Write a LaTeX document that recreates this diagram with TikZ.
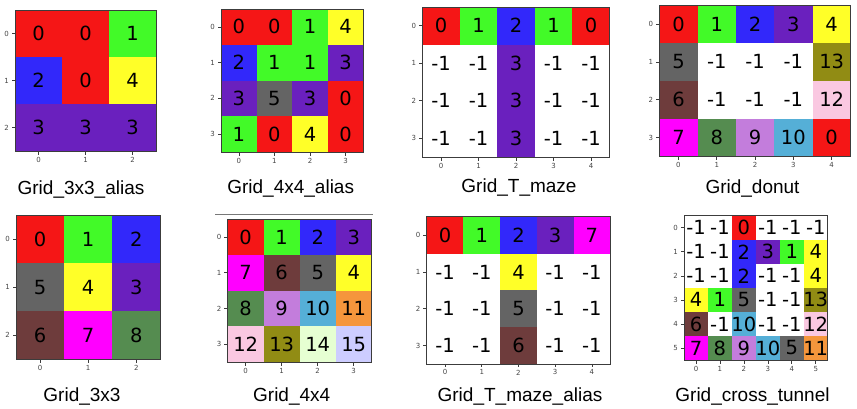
\documentclass[tikz,border=0pt]{standalone}
\usepackage{fontspec}
\newfontfamily\dvfont{DejaVu Sans}
\newfontfamily\ttlfont{Liberation Sans}
\definecolor{c0}{RGB}{255,255,255}
\definecolor{c1}{RGB}{245,22,22}
\definecolor{c2}{RGB}{66,250,40}
\definecolor{c3}{RGB}{50,40,250}
\definecolor{c4}{RGB}{106,32,190}
\definecolor{c5}{RGB}{255,255,40}
\definecolor{c6}{RGB}{100,100,100}
\definecolor{c7}{RGB}{110,60,60}
\definecolor{c8}{RGB}{255,0,255}
\definecolor{c9}{RGB}{85,140,80}
\definecolor{c10}{RGB}{195,125,220}
\definecolor{c11}{RGB}{85,175,215}
\definecolor{c12}{RGB}{245,150,60}
\definecolor{c13}{RGB}{250,200,225}
\definecolor{c14}{RGB}{145,140,20}
\definecolor{c15}{RGB}{230,255,210}
\definecolor{c16}{RGB}{205,205,255}
\definecolor{spine}{RGB}{60,60,60}
\definecolor{ticktxt}{RGB}{70,70,70}
\tikzset{
  numtxt/.style={inner sep=0pt, font=\dvfont\fontsize{19.5}{20}\selectfont, text=black},
  frame/.style={draw=spine, line width=0.8pt},
  tickmark/.style={draw=spine, line width=0.6pt},
  ticklabel/.style={inner sep=0pt, font=\dvfont\fontsize{7}{8}\selectfont, text=ticktxt},
  titletxt/.style={inner sep=0pt, anchor=base, font=\ttlfont\fontsize{19}{20}\selectfont, text=black}
}
% #1 name, #2 x0, #3 y0, #4 cell w, #5 cell h, #6 cols, #7 rows, #8 data
\newcommand\gridpanel[8]{%
  \foreach \row [count=\r from 0] in {#8}{%
    \foreach \v [count=\c from 0] in \row {%
      \pgfmathtruncatemacro\ci{\v+1}%
      \fill[fill=c\ci] ({#2+\c*#4},{#3+\r*#5}) rectangle ++(#4,#5);
      \node[numtxt] (#1-\r-\c) at ({#2+(\c+0.5)*#4},{#3+(\r+0.5)*#5}) {\v};
    }%
  }%
  \draw[frame] (#2,#3) rectangle ++({#6*#4},{#7*#5});
  \pgfmathtruncatemacro\ncm{#6-1}%
  \pgfmathtruncatemacro\nrm{#7-1}%
  \foreach \i in {0,...,\ncm}{%
    \draw[tickmark] ({#2+(\i+0.5)*#4},{#3+#7*#5}) -- ++(0,3.5);
    \node[ticklabel] (#1-xt-\i) at ({#2+(\i+0.5)*#4},{#3+#7*#5+8.5}) {\i};
  }%
  \foreach \i in {0,...,\nrm}{%
    \draw[tickmark] (#2,{#3+(\i+0.5)*#5}) -- ++(-3.5,0);
    \node[ticklabel] (#1-yt-\i) at ({#2-8.5},{#3+(\i+0.5)*#5}) {\i};
  }%
}
\begin{document}
\begin{tikzpicture}[x=1pt,y=-1pt]
\fill[white] (0,0) rectangle (857,408);
\useasboundingbox (0,0) rectangle (857,408);

\gridpanel{pa}{15}{10}{47}{47}{3}{3}{{0,0,1},{2,0,4},{3,3,3}}
\node[titletxt] (ta) at (81,194) {Grid\_3x3\_alias};

\gridpanel{pb}{221}{9}{35.6}{35.75}{4}{4}{{0,0,1,4},{2,1,1,3},{3,5,3,0},{1,0,4,0}}
\node[titletxt] (tb) at (290.7,193.3) {Grid\_4x4\_alias};

\gridpanel{pc}{422.3}{7}{37.5}{37.5}{5}{4}{{0,1,2,1,0},{-1,-1,3,-1,-1},{-1,-1,3,-1,-1},{-1,-1,3,-1,-1}}
\node[titletxt] (tc) at (519,192.7) {Grid\_T\_maze};

\gridpanel{pd}{659.3}{5}{38.3}{37.9}{5}{4}{{0,1,2,3,4},{5,-1,-1,-1,13},{6,-1,-1,-1,12},{7,8,9,10,0}}
\node[titletxt] (td) at (752.5,193) {Grid\_donut};

\gridpanel{pe}{16}{215}{48.1}{48.1}{3}{3}{{0,1,2},{5,4,3},{6,7,8}}
\node[titletxt] (te) at (82,401) {Grid\_3x3};

\coordinate (la) at (215,214.3);
\coordinate (lb) at (373,214.3);
\draw[draw={rgb,255:red,120;green,120;blue,120}, line width=0.9pt] (la) -- (lb);
\gridpanel{pf}{227.7}{219}{36}{35.8}{4}{4}{{0,1,2,3},{7,6,5,4},{8,9,10,11},{12,13,14,15}}
\node[titletxt] (tf) at (291.7,401.5) {Grid\_4x4};

\gridpanel{pg}{426.7}{216.7}{36.7}{36.8}{5}{4}{{0,1,2,3,7},{-1,-1,4,-1,-1},{-1,-1,5,-1,-1},{-1,-1,6,-1,-1}}
\node[titletxt] (tg) at (520,401) {Grid\_T\_maze\_alias};

\gridpanel{ph}{684}{215.7}{23.95}{24.05}{6}{6}{{-1,-1,0,-1,-1,-1},{-1,-1,2,3,1,4},{-1,-1,2,-1,-1,4},{4,1,5,-1,-1,13},{6,-1,10,-1,-1,12},{7,8,9,10,5,11}}
\node[titletxt] (th) at (752.5,401.5) {Grid\_cross\_tunnel};
\end{tikzpicture}
\end{document}
